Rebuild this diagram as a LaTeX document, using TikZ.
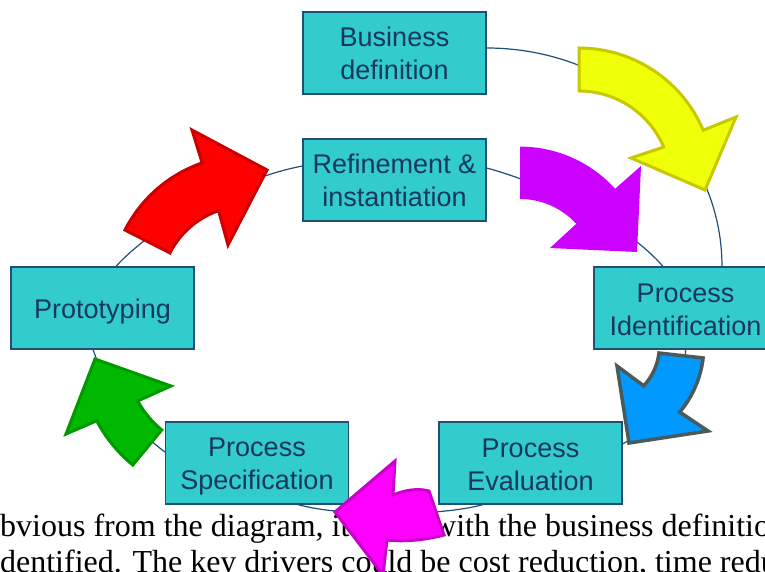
\documentclass[tikz,border=0pt]{standalone}
\usepackage{fontspec}
\setmainfont{Liberation Serif}
\newfontfamily\boxfont{Liberation Sans}
\newcommand{\bxs}{\rule[-5pt]{0pt}{31pt}}
\definecolor{boxfill}{HTML}{33CCCC}
\definecolor{boxdraw}{HTML}{1F4E79}
\definecolor{textblue}{HTML}{17375E}
\definecolor{linkblue}{HTML}{1F4E79}
\definecolor{yelfill}{HTML}{EFFF08}
\definecolor{yeldraw}{HTML}{C8C800}
\definecolor{purfill}{HTML}{CC00FF}
\definecolor{bluefill}{HTML}{0099FF}
\definecolor{bluedraw}{HTML}{4A5A5A}
\definecolor{pinkfill}{HTML}{FF00FF}
\definecolor{pinkdraw}{HTML}{CC00CC}
\definecolor{grnfill}{HTML}{00B800}
\definecolor{grndraw}{HTML}{009900}
\definecolor{redfill}{HTML}{FF0000}
\definecolor{reddraw}{HTML}{CC0000}
\tikzset{
  box/.style={draw=boxdraw, fill=boxfill, line width=1.2pt, minimum width=183pt,
    minimum height=82pt, inner sep=0pt, align=center, text=textblue,
    font=\boxfont\fontsize{27}{33}\selectfont},
  link/.style={draw=linkblue, line width=1.2pt},
  bgtext/.style={anchor=base west, inner sep=0pt, font=\fontsize{32}{36}\selectfont},
  blockarrow/.style={line width=3pt, line join=miter}
}
\begin{document}
\begin{tikzpicture}[x=1pt,y=-1pt]
\useasboundingbox (0,0) rectangle (765,572);
\clip (0,0) rectangle (765,572);
\fill[white] (0,0) rectangle (765,572);
% background text
\node[bgtext] (t1) at (-16,536) {obvious from the diagram, it};
\node[bgtext] (t1b) at (433,536) {with the business definition};
\node[bgtext] (t2) at (-9,572) {identified. The key drivers could be cost reduction, time reduction};
% boxes
\node[box] (biz) at (394.5,53) {\bxs Business\\\bxs definition};
\node[box] (ref) at (394.5,180) {\bxs Refinement \&\\\bxs instantiation};
\node[box] (proto) at (102.5,308) {\bxs Prototyping};
\node[box] (pid) at (685.5,308) {\bxs Process\\\bxs Identification};
\node[box] (spec) at (257,463) {\bxs Process\\\bxs Specification};
\node[box] (eval) at (530.5,463) {\bxs Process\\\bxs Evaluation};
% connectors
\draw[link] ([yshift=5pt]biz.east) .. controls +(130,0) and +(0,-121) .. ([xshift=36.5pt]pid.north);
\draw[link] ([yshift=12pt]ref.east) .. controls +(70,19) and +(-33,-38) .. ([xshift=-22.5pt]pid.north);
\draw[link] ([xshift=13.5pt]proto.north) .. controls +(33,-37) and +(-69,13) .. ([yshift=14pt]ref.west);
\draw[link] ([yshift=11pt]spec.west) .. controls +(-40,-30) and +(14,38) .. ([xshift=-9.5pt]proto.south);
\draw[link] ([xshift=-47.5pt]eval.south) .. controls +(-43,12) and +(42,12) .. ([xshift=41pt]spec.south);
\draw[link] (pid.south) .. controls +(0,41) and +(30,-17) .. ([yshift=19pt]eval.east);
% block arrows
\filldraw[blockarrow, fill=yelfill, draw=yeldraw]
  plot[domain=-90:-23,samples=40] ({579+135*cos(\x)},{183+135*sin(\x)})
  -- (736,117) -- (705,190) -- (631,158)
  -- plot[domain=-23:-90,samples=40] ({579+92*cos(\x)},{183+92*sin(\x)}) -- cycle;
\fill[fill=purfill]
  plot[domain=-90:-42.2,samples=40] ({520+128.4*cos(\x)},{275+128.4*sin(\x)})
  -- (641,166) -- (637,252) -- (550,248)
  -- plot[domain=-42.3:-90,samples=40] ({520+76*cos(\x)},{275+76*sin(\x)}) -- cycle;
\filldraw[blockarrow, line width=3.5pt, fill=bluefill, draw=bluedraw]
  plot[domain=6.7:40,samples=40] ({601+102.8*cos(\x)},{346+102.8*sin(\x)})
  -- (708,431) -- (629,443) -- (617,366)
  -- plot[domain=43:6.9,samples=40] ({601+58.4*cos(\x)},{346+58.4*sin(\x)}) -- cycle;
\filldraw[blockarrow, fill=pinkfill, draw=pinkdraw]
  (395,461) -- (393,495) .. controls (405,490) and (418,488) .. (429,491)
  -- (444,535) .. controls (425,540) and (405,542) .. (387,540)
  -- (383,575) -- (335,512) -- cycle;
\filldraw[blockarrow, fill=grnfill, draw=grndraw]
  plot[domain=129.5:152,samples=40] ({226+146.5*cos(\x)},{352+146.5*sin(\x)})
  -- (66,434) -- (95,359) -- (171,386)
  -- plot[domain=151:129.5,samples=40] ({226+101*cos(\x)},{352+101*sin(\x)}) -- cycle;
\filldraw[blockarrow, fill=redfill, draw=reddraw]
  plot[domain=-153:-109,samples=40] ({246.6+136.5*cos(\x)},{292+136.5*sin(\x)})
  -- (192,130) -- (267,170) -- (228,245)
  -- plot[domain=-109:-153,samples=40] ({246.6+86*cos(\x)},{292+86*sin(\x)}) -- cycle;
\end{tikzpicture}
\end{document}
